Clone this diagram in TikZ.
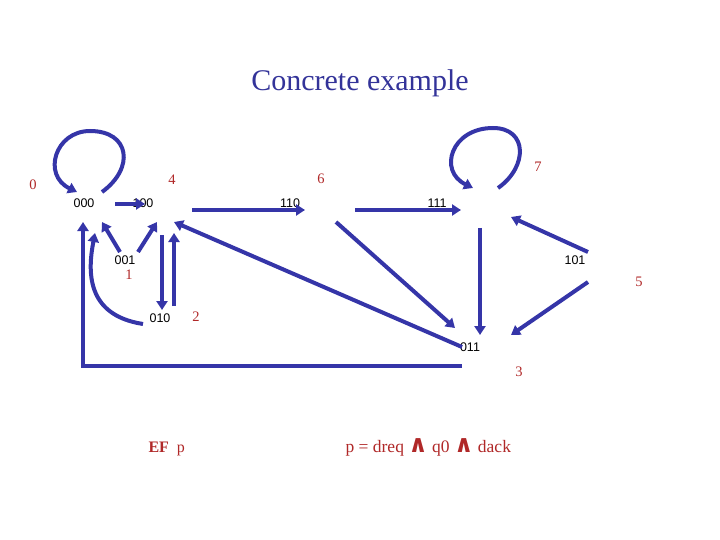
\documentclass[tikz,border=0pt]{standalone}
\usepackage{fontspec}
\setmainfont{Liberation Serif}
\setsansfont{Liberation Sans}
\newfontfamily\wedgefont{DejaVu Sans}
\usetikzlibrary{arrows.meta, calc}
\definecolor{edgeblue}{HTML}{3535A8}
\definecolor{tagred}{HTML}{B02828}
\definecolor{titleblue}{HTML}{333399}
\newcommand{\bigand}{{\wedgefont\bfseries\fontsize{24}{24}\selectfont ∧}}

\begin{document}
\begin{tikzpicture}[x=1pt, y=-1pt,
    state/.style={font=\sffamily\fontsize{12.5}{14}\selectfont, inner sep=0pt},
    tag/.style={text=tagred, font=\fontsize{14.5}{16}\selectfont, inner sep=0pt},
    edge/.style={edgeblue, line width=4pt, -{Triangle[length=9pt, width=11pt]}}]
  \useasboundingbox (0,0) rectangle (720,540);
  \node[text=titleblue, font=\fontsize{30}{34}\selectfont] (title) at (360,83) {Concrete example};
  \foreach \lab/\x/\y in {000/84/203, 100/143/203, 110/290/203, 111/437/203,
                          001/125/260, 010/160/318, 011/470/347, 101/575/260}{%
    \node[state] (s\lab) at (\x,\y) {\lab};}
  \foreach \lab/\x/\y in {0/33/185, 4/172/180, 6/321/179, 7/538/167,
                          1/129/275, 2/196/317, 5/639/282, 3/519/372}{%
    \node[tag] (n\lab) at (\x,\y) {\lab};}
  \draw[edge] ($(s000)+(18,-11)$) .. controls +(33,-24) and +(40,0) .. ($(s000)+(6,-72)$)
    .. controls +(-35,0) and +(-35,-17) .. ($(s000)+(-7,-11)$);
  \draw[edge] ($(s111)+(61,-15)$) .. controls +(30,-21) and +(35,0) .. ($(s111)+(56,-75)$)
    .. controls +(-42,0) and +(-35,-17) .. ($(s111)+(36,-15)$);
  \draw[edge] ($(s000)+(31,1)$) -- ($(s100)+(2,1)$);
  \draw[edge] ($(s100)+(49,7)$) -- ($(s110)+(15,7)$);
  \draw[edge] ($(s110)+(65,7)$) -- ($(s111)+(24,7)$);
  \draw[edge] ($(s101)+(13,-8)$) -- ($(s111)+(74,14)$);
  \draw[edge] ($(s111)+(43,25)$) -- ($(s011)+(10,-12)$);
  \draw[edge] ($(s101)+(13,22)$) -- ($(s011)+(41,-12)$);
  \draw[edge] ($(s110)+(46,19)$) -- ($(s011)+(-15,-19)$);
  \draw[edge] ($(s011)+(-8,0)$) -- ($(s100)+(31,19)$);
  \draw[edge] ($(s001)+(-5,-8)$) -- ($(s000)+(18,19)$);
  \draw[edge] ($(s001)+(13,-8)$) -- ($(s100)+(14,19)$);
  \draw[edge] ($(s100)+(19,32)$) -- ($(s010)+(2,-8)$);
  \draw[edge] ($(s010)+(14,-12)$) -- ($(s100)+(31,30)$);
  \draw[edge] ($(s010)+(-17,6)$) .. controls +(-58,-9) and +(-7,37) .. ($(s000)+(11,30)$);
  \draw[edge] ($(s011)+(-8,19)$) -| ($(s000)+(-1,19)$);
  \node[anchor=base west, text=tagred, font=\fontsize{16}{18}\selectfont] (goal) at (145,452)
    {\textbf{EF}\enspace p};
  \node[anchor=base west, text=tagred, font=\fontsize{17.5}{20}\selectfont] (prop) at (342,452)
    {p = dreq \bigand{} q0 \bigand{} dack};
\end{tikzpicture}
\end{document}
